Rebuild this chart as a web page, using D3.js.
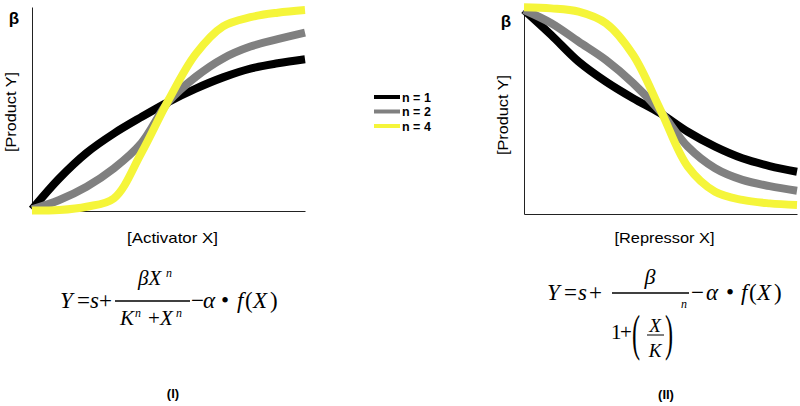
<!DOCTYPE html>
<html>
<head>
<meta charset="utf-8">
<script src="https://cdn.jsdelivr.net/npm/d3@7"></script>
<style>
  body { margin: 0; background: #fff; }
  svg { display: block; }
  .lbl { font-family: "Liberation Sans", Arial, sans-serif; fill: #000; }
  .math { font-family: "Liberation Serif", "Times New Roman", serif; font-style: italic; fill: #000; }
  .up { font-family: "Liberation Serif", "Times New Roman", serif; fill: #000; }
</style>
</head>
<body>
<div id="chart"></div>
<script>
// shared x positions (fraction of the axis)
const xs = [0, 0.1, 0.2, 0.3, 0.4, 0.5, 0.6, 0.7, 0.8, 0.9, 1.0];

// activator panel (fraction of beta)
const actN1 = [0.008, 0.16, 0.285, 0.38, 0.46, 0.535, 0.60, 0.655, 0.698, 0.724, 0.744];
const actN2 = [0.008, 0.054, 0.119, 0.209, 0.332, 0.536, 0.658, 0.748, 0.806, 0.842, 0.874];
const actN4 = [0.002, 0.005, 0.021, 0.062, 0.283, 0.544, 0.77, 0.905, 0.95, 0.972, 0.985];

// repressor panel
const repN1 = [1.0, 0.877, 0.747, 0.649, 0.567, 0.493, 0.403, 0.33, 0.273, 0.235, 0.207];
const repN2 = [1.0, 0.935, 0.845, 0.755, 0.641, 0.502, 0.33, 0.224, 0.167, 0.137, 0.114];
const repN4 = [1.013, 1.008, 0.992, 0.935, 0.779, 0.51, 0.232, 0.109, 0.069, 0.052, 0.044];

const seriesNames = ["n = 1", "n = 2", "n = 4"];
const colors = ["#000000", "#808080", "#f5f53a"];

const width = 800, height = 406;

let svg = d3.select("#chart")
    .append("svg")
    .attr("width", width)
    .attr("height", height);

function panel(x0, x1, y0, y1, series, xLabel, xLabelLen) {
    let x = d3.scaleLinear().domain([0, 1]).range([x0, x1]);
    let y = d3.scaleLinear().domain([0, 1]).range([y0, y1]);

    let line = d3.line()
        .x((d, i) => x(xs[i]))
        .y(d => y(d))
        .curve(d3.curveCatmullRom.alpha(0.5));

    let g = svg.append("g");

    g.append("g")
        .attr("transform", `translate(${x0},0)`)
        .call(d3.axisLeft(y).ticks(0).tickSizeOuter(0));
    g.append("g")
        .attr("transform", `translate(0,${y0})`)
        .call(d3.axisBottom(x).ticks(0).tickSizeOuter(0));
    g.selectAll(".domain").attr("stroke", "#222").attr("stroke-width", 1);

    g.selectAll("path.curve").data(series)
        .enter()
        .append("path")
        .attr("class", "curve")
        .attr("d", d => line(d))
        .attr("fill", "none")
        .attr("stroke", (d, i) => colors[i])
        .attr("stroke-width", 8);

    g.append("text")
        .attr("class", "lbl")
        .attr("x", x0 - 18)
        .attr("y", y1 + 17)
        .style("font-size", "17px")
        .style("font-weight", "bold")
        .attr("text-anchor", "middle")
        .text("β");

    g.append("text")
        .attr("class", "lbl")
        .attr("transform", `translate(${x0 - 16},${(y0 + y1) / 2 + 3}) rotate(-90)`)
        .attr("text-anchor", "middle")
        .attr("textLength", 80)
        .attr("lengthAdjust", "spacingAndGlyphs")
        .style("font-size", "15px")
        .text("[Product Y]");

    g.append("text")
        .attr("class", "lbl")
        .attr("x", (x0 + x1) / 2 + 4)
        .attr("y", 243)
        .attr("text-anchor", "middle")
        .attr("textLength", xLabelLen)
        .attr("lengthAdjust", "spacingAndGlyphs")
        .style("font-size", "15px")
        .text(xLabel);
}

panel(32, 305, 211, 7, [actN1, actN2, actN4], "[Activator X]", 91);
panel(524, 797, 214, 10, [repN1, repN2, repN4], "[Repressor X]", 100);

// legend
let legend = svg.append("g");
seriesNames.forEach((name, i) => {
    let yy = 97 + i * 14.5;
    legend.append("line")
        .attr("x1", 374).attr("x2", 400)
        .attr("y1", yy).attr("y2", yy)
        .attr("stroke", colors[i])
        .attr("stroke-width", 4);
    legend.append("text")
        .attr("class", "lbl")
        .attr("x", 402).attr("y", yy + 4.5)
        .style("font-size", "12.5px")
        .style("font-weight", "bold")
        .text(name);
});

function t(g, cls, x, y, s, size, anchor) {
    let el = g.append("text").attr("class", cls).attr("x", x).attr("y", y).text(s)
        .style("font-size", size + "px");
    if (anchor) el.attr("text-anchor", anchor);
    return el;
}

// formula (I)
let f1 = svg.append("g");
t(f1, "math", 60, 308, "Y", 23);
t(f1, "up", 77, 308, "=", 23);
t(f1, "math", 90, 308, "s", 23);
t(f1, "up", 99, 308, "+", 23);
t(f1, "math", 138, 285, "βX", 21);
t(f1, "math", 166, 277, "n", 12);
f1.append("line").attr("x1", 115).attr("x2", 190).attr("y1", 301).attr("y2", 301)
    .attr("stroke", "#000").attr("stroke-width", 1.3);
t(f1, "math", 120, 325, "K", 21);
t(f1, "math", 135, 317, "n", 12);
t(f1, "up", 148, 325, "+", 21);
t(f1, "math", 160, 325, "X", 21);
t(f1, "math", 176, 317, "n", 12);
t(f1, "up", 191, 308, "−", 23);
t(f1, "math", 203, 308, "α", 23);
t(f1, "up", 221, 308, "•", 23);
t(f1, "math", 237, 308, "f", 23);
t(f1, "up", 245, 308, "(", 23);
t(f1, "math", 253, 308, "X", 23);
t(f1, "up", 270, 308, ")", 23);

// formula (II)
let f2 = svg.append("g");
t(f2, "math", 547, 300, "Y", 23);
t(f2, "up", 564, 300, "=", 23);
t(f2, "math", 578, 300, "s", 23);
t(f2, "up", 589, 300, "+", 23);
t(f2, "math", 650, 284, "β", 22, "middle");
f2.append("line").attr("x1", 612).attr("x2", 689).attr("y1", 293).attr("y2", 293)
    .attr("stroke", "#000").attr("stroke-width", 1.3);
t(f2, "up", 611, 339, "1", 21);
t(f2, "up", 620, 339, "+", 21);
t(f2, "up", 0, 0, "(", 22).attr("transform", "translate(632,350) scale(1.1,2.3)");
t(f2, "up", 0, 0, ")", 22).attr("transform", "translate(665,350) scale(1.1,2.3)");
t(f2, "math", 655, 332, "X", 19, "middle");
f2.append("line").attr("x1", 647).attr("x2", 664).attr("y1", 335).attr("y2", 335)
    .attr("stroke", "#000").attr("stroke-width", 1);
t(f2, "math", 655, 357, "K", 19, "middle");
t(f2, "math", 681, 308, "n", 12);
t(f2, "up", 691, 300, "−", 23);
t(f2, "math", 706, 300, "α", 23);
t(f2, "up", 726, 300, "•", 23);
t(f2, "math", 741, 300, "f", 23);
t(f2, "up", 749, 300, "(", 23);
t(f2, "math", 757, 300, "X", 23);
t(f2, "up", 774, 300, ")", 23);

// panel tags
t(svg, "lbl", 173, 398, "(I)", 13, "middle").style("font-weight", "bold");
t(svg, "lbl", 666, 399, "(II)", 13, "middle").style("font-weight", "bold");
</script>
</body>
</html>
